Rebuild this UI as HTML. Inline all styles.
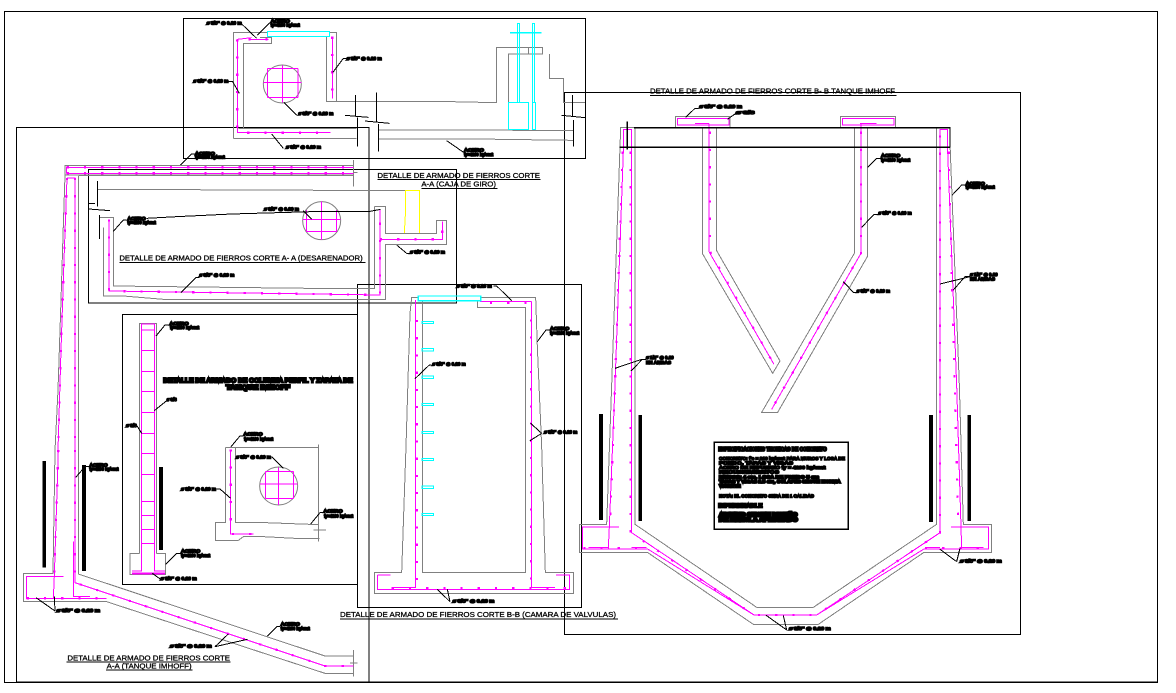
<!DOCTYPE html>
<html lang="es"><head><meta charset="utf-8"><title>Detalle de armado</title>
<style>
html,body{margin:0;padding:0;background:#fff;width:1176px;height:693px;overflow:hidden}
svg{display:block}
svg path,svg rect,svg circle{vector-effect:non-scaling-stroke;fill:none;shape-rendering:crispEdges}
.g{stroke:#808080;stroke-width:1}
.c2{stroke:#808080;stroke-width:1;shape-rendering:auto!important}
.k{stroke:#000;stroke-width:1}
.f{stroke:#000;stroke-width:1.3}
.m{stroke:#f0f;stroke-width:1}
.d{stroke:#f0f;stroke-width:2.2;stroke-dasharray:2.2 15}
.c{stroke:#0ff;stroke-width:1}
.y{stroke:#ff0;stroke-width:1}
svg rect.b{fill:#000;stroke:none}
text{font-family:"Liberation Sans",sans-serif;fill:#000}
.l{font-size:15px;font-weight:bold;stroke:#000;stroke-width:4.5}
.t{font-size:21px;stroke:#000;stroke-width:.8}
</style></head><body>
<svg width="1176" height="693" viewBox="0 0 1176 693" xmlns="http://www.w3.org/2000/svg">
<rect width="1176" height="693" style="fill:#fff"/>

<!-- Frames -->
<rect class="k" x="4.5" y="11.5" width="1153" height="671"/>
<path class="f" d="M16 682H1158" style="stroke-width:1.5"/>
<rect class="f" x="183.5" y="18.5" width="402" height="140"/>
<rect class="f" x="16.5" y="127.5" width="352.5" height="554.5"/>
<rect class="f" x="88.5" y="169.5" width="368" height="133.5"/>
<rect class="f" x="122.5" y="314.5" width="235" height="270"/>
<rect class="f" x="357.5" y="284.5" width="224" height="323"/>
<rect class="f" x="564.5" y="92.5" width="456" height="542"/>

<!-- Caja de giro -->
<g transform="translate(180,10) scale(.33333)">
<path class="g" d="M160 385V68H262M448 68H470V274M440 78V274H770L950 278V112H1088V132H985V360M1046 112V132M1108 132V205H1150V278H1215M190 355V100H275V82H240M175 355H530M160 385H530M595 360H885L1180 362M595 387H888L1180 391"/>
<rect class="c" x="262" y="64" width="186" height="16"/>
<rect class="c" x="985" y="277" width="61" height="81"/>
<rect class="c" x="1057" y="277" width="10" height="81"/>
<rect class="c" x="1012" y="40" width="7" height="237"/>
<rect class="c" x="1057" y="40" width="7" height="237"/>
<path class="c" style="stroke-width:1.5" d="M990 68H1085"/>
<path class="m" d="M215 83L172 88V368H452M205 88H265M457 80V266"/>
<path class="d" d="M172 88V368H452M457 80V266M205 88H265"/>
<circle class="c2" cx="307" cy="222" r="57"/>
<path class="m" d="M250 217H365M307 167V277M263 175V262M354 175V262M263 175H354M263 262H354"/>
<path class="k" d="M185 42L230 85M270 38L232 75M500 145H490L458 188M145 215H158L178 250M350 316L312 277M310 415L275 372M855 430L800 392M527 255V318M495 316L565 322M532 322V410M590 247V335M555 333L628 340M596 342V425M1178 255V320M1145 316L1215 323M1180 330V410"/>
<text class="l" x="80" y="43" textLength="105" lengthAdjust="spacingAndGlyphs">ø 3/8" @ 0.20 m</text>
<text class="l" x="272" y="38" textLength="58" lengthAdjust="spacingAndGlyphs">ACERO</text>
<text class="l" x="272" y="49" textLength="88" lengthAdjust="spacingAndGlyphs">fy=4200 kg/cm2</text>
<text class="l" x="500" y="150" textLength="105" lengthAdjust="spacingAndGlyphs">ø 3/8" @ 0.20 m</text>
<text class="l" x="40" y="217" textLength="105" lengthAdjust="spacingAndGlyphs">ø 3/8" @ 0.20 m</text>
<text class="l" x="355" y="315" textLength="105" lengthAdjust="spacingAndGlyphs">ø 3/8" @ 0.20 m</text>
<text class="l" x="318" y="415" textLength="105" lengthAdjust="spacingAndGlyphs">ø 3/8" @ 0.20 m</text>
<text class="l" x="852" y="425" textLength="60" lengthAdjust="spacingAndGlyphs">ACERO</text>
<text class="l" x="852" y="438" textLength="88" lengthAdjust="spacingAndGlyphs">fy=4200 kg/cm2</text>
<text class="l" x="45" y="435" textLength="60" lengthAdjust="spacingAndGlyphs">ACERO</text>
<text class="l" x="45" y="446" textLength="90" lengthAdjust="spacingAndGlyphs">fy=4200 kg/cm2</text>
<path class="k" d="M45 432H35L0 466"/>
<text class="t" x="592" y="504" textLength="488" lengthAdjust="spacingAndGlyphs">DETALLE DE ARMADO DE FIERROS CORTE</text>
<path class="k" d="M592 509H1082M724 535H952"/>
<text class="t" x="724" y="530" textLength="224" lengthAdjust="spacingAndGlyphs">A-A (CAJA DE GIRO)</text>
</g>

<!-- Imhoff A-A top + Desarenador -->
<g transform="translate(10,160) scale(.33333)">
<path class="g" d="M165 45V16H1030M165 45H1030M205 47H1030M1030 0V80M1030 37H1043"/>
<path class="m" d="M170 40V22H1030M170 40H1030"/>
<path class="d" d="M170 22H1030M170 40H1030"/>
<path class="g" d="M262 88H290L1185 92M1093 140H1127V220H1280V182H1310V254H1127V418H460L340 408H280V202M1093 140V385H900V385L310 378V172H268"/>
<path class="y" d="M1183 220L1186 165V92H1228V220"/>
<path class="g" d="M1127 220H1280"/>
<path class="m" d="M297 178V393L1110 405V150M1110 238H1297V185"/>
<path class="d" d="M297 178V393L1110 405V150M1110 238H1297V185"/>
<circle class="c2" cx="935" cy="182" r="57"/>
<path class="m" d="M878 178H992M935 125V240M890 150V215H980V150"/>
<path class="k" d="M262 63V140M237 130H255M237 147L300 152M268 165V237M310 214L340 180H350M410 175L500 170L665 162L905 155H1075L1112 148M880 152L905 178M568 352H558L512 398M1200 280H1190L1160 255"/>
<text class="l" x="352" y="180" textLength="55" lengthAdjust="spacingAndGlyphs">ACERO</text>
<text class="l" x="352" y="192" textLength="86" lengthAdjust="spacingAndGlyphs">fy=4200 kg/cm2</text>
<text class="l" x="762" y="152" textLength="105" lengthAdjust="spacingAndGlyphs">ø 3/8" @ 0.20 m</text>
<text class="l" x="568" y="350" textLength="105" lengthAdjust="spacingAndGlyphs">ø 3/8" @ 0.20 m</text>
<text class="l" x="1200" y="280" textLength="105" lengthAdjust="spacingAndGlyphs">ø 3/8" @ 0.20 m</text>
<text class="t" x="328" y="302" textLength="730" lengthAdjust="spacingAndGlyphs">DETALLE DE ARMADO DE FIERROS CORTE A- A (DESARENADOR)</text>
<path class="k" d="M328 307H1066"/>
</g>

<!-- Imhoff A-A walls -->
<path class="g" d="M65 175L63.500 220L61 300L58 390L55 450L53 573M78.500 176V450"/>
<path class="m" d="M67 178H75V450M67 178L64 260L61 350L58 450"/>
<path class="d" d="M67 178L64 260L61 350L58 450M75 178V450"/>

<g transform="translate(10,450) scale(.33333)">
<path class="g" d="M205 0V372L945 618H1030M130 370H40V455H290L945 670H1030M1030 600V680M1020 639H1043"/>
<path class="m" d="M145 0L133 378L130 445M50 440V380H160M50 380V445H290M190 275V440H240M195 0V398L945 648H1030"/>
<path class="d" d="M145 0L133 378M50 445H290M195 0V398L945 648H1030"/>
<rect class="b" x="97" y="33" width="11" height="320"/>
<rect class="b" x="216" y="45" width="12" height="318"/>
<path class="k" d="M237 50H225L197 82M135 483L78 443M135 483L133 440M615 590L655 552M615 590L712 568M810 530H800L772 558"/>
<text class="l" x="238" y="50" textLength="55" lengthAdjust="spacingAndGlyphs">ACERO</text>
<text class="l" x="238" y="62" textLength="88" lengthAdjust="spacingAndGlyphs">fy=4200 kg/cm2</text>
<text class="l" x="140" y="486" textLength="130" lengthAdjust="spacingAndGlyphs">ø 3/8" @ 0.20 m</text>
<text class="l" x="480" y="593" textLength="125" lengthAdjust="spacingAndGlyphs">ø 3/8" @ 0.20 m</text>
<text class="l" x="812" y="527" textLength="58" lengthAdjust="spacingAndGlyphs">ACERO</text>
<text class="l" x="812" y="540" textLength="88" lengthAdjust="spacingAndGlyphs">fy=4200 kg/cm2</text>
<text class="t" x="172" y="632" textLength="488" lengthAdjust="spacingAndGlyphs">DETALLE DE ARMADO DE FIERROS CORTE</text>
<path class="k" d="M170 636H662M288 660H548"/>
<text class="t" x="290" y="656" textLength="255" lengthAdjust="spacingAndGlyphs">A-A (TANQUE IMHOFF)</text>
</g>

<!-- Sub-frame drawings -->
<g transform="translate(120,310) scale(.33333)">
<path class="g" d="M58 730V40H110V730M58 730H30V793H137V730H110M317 412H596M596 403V695M317 412V637H286V691H355L370 680H430L545 686H598M346 412V637H410L570 643H596M580 660H618"/>
<path class="m" d="M36 783H65V42H103V783H135M36 790H135M65 60H103M65 122H103M65 184H103M65 245H103M65 307H103M65 370H103M65 430H103M65 493H103M65 574H103M65 616H103M65 658H103M65 700H103M332 418V672H400"/>
<path class="d" d="M332 418V672H400"/>
<path class="m" style="stroke-width:2" d="M36 790H135"/>
<circle class="c2" cx="476" cy="528" r="57"/>
<path class="m" d="M420 522H533M476 472V585M436 485V565M520 485V565M436 485H520M436 565H520"/>
<rect class="b" x="117" y="471" width="12" height="249"/>
<path class="k" d="M148 45H135L108 78M140 272L103 302M50 346L65 370M183 730H170L137 763M122 808L97 790M370 378H360L333 410M455 440L490 475M290 537H300L332 565M610 608H600L572 642"/>
<text class="l" x="148" y="45" textLength="58" lengthAdjust="spacingAndGlyphs">ACERO</text>
<text class="l" x="150" y="57" textLength="88" lengthAdjust="spacingAndGlyphs">fy=4200 kg/cm2</text>
<text class="l" x="140" y="273" textLength="30" lengthAdjust="spacingAndGlyphs">ø 3/8</text>
<text class="l" x="18" y="351" textLength="32" lengthAdjust="spacingAndGlyphs">ø 3/8</text>
<text class="l" x="183" y="727" textLength="58" lengthAdjust="spacingAndGlyphs">ACERO</text>
<text class="l" x="183" y="741" textLength="88" lengthAdjust="spacingAndGlyphs">fy=4200 kg/cm2</text>
<text class="l" x="122" y="810" textLength="108" lengthAdjust="spacingAndGlyphs">ø 3/8" @ 0.20 m</text>
<text class="l" style="font-size:19px;stroke-width:6" x="130" y="218" textLength="568" lengthAdjust="spacingAndGlyphs">DETALLE DE ARMADO DE COLUMNA PERFIL Y ZAPATA DE</text>
<text class="l" style="font-size:19px;stroke-width:6" x="318" y="239" textLength="192" lengthAdjust="spacingAndGlyphs">TANQUE IMHOFF</text>
<text class="l" x="370" y="377" textLength="58" lengthAdjust="spacingAndGlyphs">ACERO</text>
<text class="l" x="372" y="391" textLength="88" lengthAdjust="spacingAndGlyphs">fy=4200 kg/cm2</text>
<text class="l" x="348" y="445" textLength="105" lengthAdjust="spacingAndGlyphs">ø 3/8" @ 0.20 m</text>
<text class="l" x="183" y="542" textLength="105" lengthAdjust="spacingAndGlyphs">ø 3/8" @ 0.20 m</text>
<text class="l" x="610" y="608" textLength="58" lengthAdjust="spacingAndGlyphs">ACERO</text>
<text class="l" x="612" y="622" textLength="88" lengthAdjust="spacingAndGlyphs">fy=4200 kg/cm2</text>
</g>

<!-- Camara de valvulas -->
<g transform="translate(360,280) scale(.33333)">
<path class="g" d="M175 53H155L150 100L138 500L125 878H43V940H640V878H556L545 500L532 200L527 53H362M187 65V878H497V82H352V65"/>
<path class="m" d="M167 60V922H95M52 885H92M52 885V928H628V885H588M515 65V922H585M360 65H515"/>
<path class="d" d="M171 120V922M513 118V922M95 925H628M390 68H515"/>
<rect class="c" style="stroke-width:1.3" x="175" y="48" width="187" height="14"/>
<g>
<rect class="c" x="186" y="124" width="34" height="7"/>
<rect class="c" x="186" y="206" width="34" height="7"/>
<rect class="c" x="186" y="288" width="34" height="7"/>
<rect class="c" x="186" y="370" width="34" height="7"/>
<rect class="c" x="186" y="454" width="34" height="7"/>
<rect class="c" x="186" y="535" width="34" height="7"/>
<rect class="c" x="186" y="618" width="34" height="7"/>
<rect class="c" x="186" y="700" width="34" height="7"/>
</g>
<path class="k" d="M400 18H410L455 62M570 150H558L532 185M215 255H208L165 296M545 460L512 430M545 460L510 482M270 965L232 928M270 965L262 928"/>
<text class="l" x="290" y="22" textLength="105" lengthAdjust="spacingAndGlyphs">ø 3/8" @ 0.20 m</text>
<text class="l" x="570" y="150" textLength="58" lengthAdjust="spacingAndGlyphs">ACERO</text>
<text class="l" x="570" y="163" textLength="88" lengthAdjust="spacingAndGlyphs">fy=4200 kg/cm2</text>
<text class="l" x="217" y="257" textLength="100" lengthAdjust="spacingAndGlyphs">ø 3/8" @ 0.20 m</text>
<text class="l" x="552" y="460" textLength="100" lengthAdjust="spacingAndGlyphs">ø 3/8" @ 0.20 m</text>
<text class="l" x="278" y="968" textLength="125" lengthAdjust="spacingAndGlyphs">ø 3/8" @ 0.20 m</text>
</g>
<text class="t" style="font-size:7px;stroke-width:.27" x="340" y="617" textLength="276" lengthAdjust="spacingAndGlyphs">DETALLE DE ARMADO DE FIERROS CORTE B-B (CAMARA DE VALVULAS)</text>
<path class="k" d="M340 619H618"/>

<!-- Tanque Imhoff B-B -->
<g transform="translate(570,85) scale(.33333)">
<path class="g" d="M192 128H152L125 900L110 1318H28V1402H232L550 1618H745L1062 1402H1265V1318H1180L1168 900L1140 175V128H1100V1318L730 1567H560L195 1318V128M398 127V507L608 865L630 828L440 497V127M853 127V505L575 982H623L892 515V127"/>
<rect class="g" x="317" y="95" width="163" height="32"/>
<rect class="g" x="812" y="95" width="165" height="32"/>
<rect class="m" x="322" y="100" width="155" height="20"/>
<rect class="m" x="817" y="100" width="155" height="20"/>
<path class="m" d="M417 115V500L612 838M873 115V505L605 973M375 115H417M870 115H920"/>
<path class="d" d="M420 140V500L612 838M873 140V505L605 973"/>
<path class="m" d="M160 200L135 900L118 1325L115 1390M160 200V133H185V1343L552 1590H740L1110 1343V133H1133V200L1160 900L1175 1390M147 1326H37V1392H233L552 1590M1143 1326H1255V1392H1062L740 1590M55 1387H115M184 1388H230M1065 1388H1110M1175 1387H1240"/>
<path class="d" d="M158 200L135 900L120 1325M182 200V1343L552 1590H740L1110 1343V133M1136 200L1165 1320M40 1390H230M1065 1390H1240"/>
<path class="f" d="M192 128H1140V187M148 187H1140M172 110V193"/>
<rect class="b" x="87" y="987" width="12" height="318"/>
<rect class="b" x="205" y="990" width="11" height="318"/>
<rect class="b" x="1077" y="990" width="12" height="321"/>
<rect class="b" x="1192" y="990" width="11" height="318"/>
<rect class="f" x="433" y="1072" width="402" height="261"/>
<text class="l" style="stroke-width:5.500;font-size:16px" x="445" y="1098" textLength="325" lengthAdjust="spacingAndGlyphs">ESPECIFICACIONES TECNICAS DE CONCRETO</text>
<text class="l" x="447" y="1125" textLength="378" lengthAdjust="spacingAndGlyphs">CONCRETO: f'c = 210 kg/cm2 PARA MUROS Y LOSA DE</text>
<text class="l" x="447" y="1139" textLength="222" lengthAdjust="spacingAndGlyphs">FONDO, TAPAS Y VIGAS</text>
<text class="l" x="447" y="1152" textLength="320" lengthAdjust="spacingAndGlyphs">ACERO DE REFUERZO fy = 4200 kg/cm2</text>
<text class="l" x="447" y="1166" textLength="180" lengthAdjust="spacingAndGlyphs">RECUBRIMIENTOS</text>
<text class="l" style="stroke-width:5.500" x="447" y="1180" textLength="300" lengthAdjust="spacingAndGlyphs">MUROS: 4 cm, LOSA DE FONDO 5 cm</text>
<text class="l" style="stroke-width:5.500" x="447" y="1194" textLength="365" lengthAdjust="spacingAndGlyphs">TAPAS Y VIGAS 2.5 cm, SOLAPES SEGUN NORMA</text>
<text class="l" style="stroke-width:5.500" x="447" y="1208" textLength="65" lengthAdjust="spacingAndGlyphs">VIGENTE</text>
<text class="l" x="447" y="1238" textLength="285" lengthAdjust="spacingAndGlyphs">NOTA: EL CONCRETO SERA DE 1 CALIDAD</text>
<text class="l" style="stroke-width:5.500;font-size:16px" x="445" y="1268" textLength="132" lengthAdjust="spacingAndGlyphs">IMPERMEABLE</text>
<text class="l" style="stroke-width:6.500;font-size:16px" x="447" y="1294" textLength="235" lengthAdjust="spacingAndGlyphs">ADITIVO SEGUN DISEÑO</text>
<text class="l" style="stroke-width:6.500;font-size:16px" x="447" y="1309" textLength="236" lengthAdjust="spacingAndGlyphs">DE MEZCLA APROBADO</text>
<path class="k" d="M385 70H375L347 97M498 85L472 103M933 220H920L893 247M1187 300H1175L1147 330M925 388H912L875 427M860 622H850L820 590M1200 575L1110 597M1200 575H1185L1150 615M228 823H215L135 850M215 825L183 858M1160 1430L1110 1393M1160 1430L1170 1390M650 1635L587 1590M650 1635L640 1592"/>
<text class="l" x="388" y="69" textLength="128" lengthAdjust="spacingAndGlyphs">ø 3/8" @ 0.20 m</text>
<text class="l" x="498" y="87" textLength="55" lengthAdjust="spacingAndGlyphs">ø 3/8</text>
<text class="l" x="933" y="216" textLength="58" lengthAdjust="spacingAndGlyphs">ACERO</text>
<text class="l" x="933" y="229" textLength="88" lengthAdjust="spacingAndGlyphs">fy=4200 kg/cm2</text>
<text class="l" x="1187" y="300" textLength="58" lengthAdjust="spacingAndGlyphs">ACERO</text>
<text class="l" x="1187" y="311" textLength="88" lengthAdjust="spacingAndGlyphs">fy=4200 kg/cm2</text>
<text class="l" x="925" y="389" textLength="100" lengthAdjust="spacingAndGlyphs">ø 3/8" @ 0.20 m</text>
<text class="l" x="860" y="623" textLength="100" lengthAdjust="spacingAndGlyphs">ø 3/8" @ 0.20 m</text>
<text class="l" x="1200" y="573" textLength="83" lengthAdjust="spacingAndGlyphs">ø 1/2" @ 0.20</text>
<text class="l" x="1200" y="587" textLength="75" lengthAdjust="spacingAndGlyphs">EN AMBAS</text>
<text class="l" x="228" y="822" textLength="83" lengthAdjust="spacingAndGlyphs">ø 1/2" @ 0.20</text>
<text class="l" x="228" y="837" textLength="75" lengthAdjust="spacingAndGlyphs">EN AMBAS</text>
<text class="l" x="1170" y="1433" textLength="125" lengthAdjust="spacingAndGlyphs">ø 3/8" @ 0.20 m</text>
<text class="l" x="657" y="1635" textLength="125" lengthAdjust="spacingAndGlyphs">ø 3/8" @ 0.20 m</text>
<text class="t" x="240" y="26" textLength="735" lengthAdjust="spacingAndGlyphs">DETALLE DE ARMADO DE FIERROS CORTE B- B TANQUE IMHOFF</text>
<path class="k" d="M240 31H980"/>
</g>
</svg>
</body></html>
